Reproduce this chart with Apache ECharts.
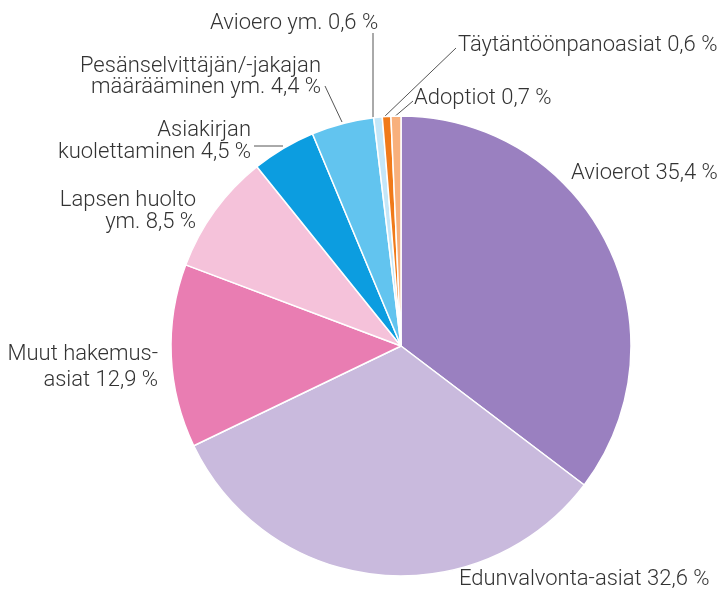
<!DOCTYPE html>
<html>
<head>
<meta charset="utf-8">
<script src="https://cdn.jsdelivr.net/npm/echarts@6/dist/echarts.min.js"></script>
<style>
html,body{margin:0;padding:0;background:#fff;}
#chart{width:724px;height:591px;}
</style>
</head>
<body>
<div id="chart"></div>
<script>
const categories = [
  "Avioerot",
  "Edunvalvonta-asiat",
  "Muut hakemus-\nasiat",
  "Lapsen huolto\nym.",
  "Asiakirjan\nkuolettaminen",
  "Pesänselvittäjän/-jakajan\nmäärääminen ym.",
  "Avioero ym.",
  "Täytäntöönpanoasiat",
  "Adoptiot"
];
const values = [35.4, 32.6, 12.9, 8.5, 4.5, 4.4, 0.6, 0.6, 0.7];
const colors = ["#9a80c0", "#c9badd", "#e97db2", "#f5c2da", "#0c9de0", "#62c4ef", "#c4e6f8", "#f07a1a", "#f8b07c"];

// label placement (anchor x, y, align) and leader line end points
const labelPlace = [
  {x: 571, y: 173, align: 'left'},
  {x: 459, y: 579, align: 'left'},
  {x: 158, y: 367, align: 'right', lh: 26},
  {x: 196, y: 211, align: 'right', lh: 22},
  {x: 251, y: 141, align: 'right', lh: 22, line: [[254, 146], [283, 146]]},
  {x: 321, y: 77, align: 'right', lh: 21, line: [[325, 86], [342, 122]]},
  {x: 210, y: 23, align: 'left', line: [[373, 33], [373, 118]]},
  {x: 458, y: 45, align: 'left', line: [[456, 48], [383, 118]]},
  {x: 414, y: 98, align: 'left', line: [[413, 101], [393, 118]]}
];

const fmt = v => v.toFixed(1).replace('.', ',') + ' %';

const data = categories.map((c, i) => ({
  name: c,
  value: values[i],
  itemStyle: {color: colors[i]},
  label: {lineHeight: labelPlace[i].lh || 22},
  labelLine: {show: !!labelPlace[i].line}
}));

const chart = echarts.init(document.getElementById('chart'), null, {renderer: 'canvas'});
chart.setOption({
  backgroundColor: '#ffffff',
  animation: false,
  series: [{
    type: 'pie',
    center: [401, 346],
    radius: [0, 230],
    startAngle: 90,
    clockwise: true,
    avoidLabelOverlap: false,
    data: data,
    itemStyle: {borderColor: '#ffffff', borderWidth: 1.5},
    label: {
      show: true,
      position: 'outside',
      formatter: p => p.name + ' ' + fmt(p.value),
      fontFamily: 'Roboto',
      fontWeight: 300,
      fontSize: 22,
      color: '#333333'
    },
    labelLine: {lineStyle: {color: '#555', width: 1}, length: 10, length2: 10},
    labelLayout: function (params) {
      const p = labelPlace[params.dataIndex];
      const r = {x: p.x, y: p.y, align: p.align, verticalAlign: 'middle'};
      if (p.line) r.labelLinePoints = [p.line[0], p.line[0], p.line[1]];
      return r;
    }
  }]
});
</script>
</body>
</html>
